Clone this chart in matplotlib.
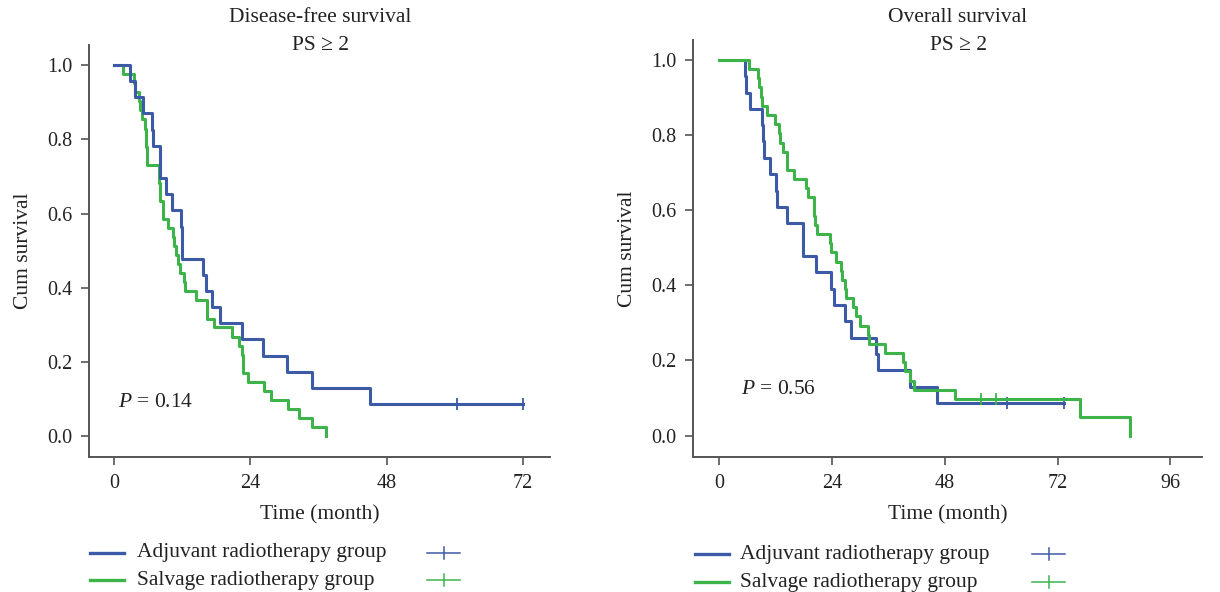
import matplotlib
matplotlib.use('Agg')
import matplotlib.pyplot as plt

plt.rcParams['font.family'] = ['Liberation Serif', 'DejaVu Serif']
plt.rcParams['mathtext.fontset'] = 'custom'
plt.rcParams['mathtext.it'] = 'Liberation Serif:italic'
plt.rcParams['mathtext.rm'] = 'Liberation Serif'

BLUE = '#3d5aa6'
GREEN = '#3cb44a'
SPINE = '#555555'

# Disease-free survival, adjuvant group (step times in months, survival after step)
dfs_adj_t = [0, 2.8, 3.65, 5.1, 6.6, 6.8, 8.1, 9.2, 10.1, 11.8, 11.9, 11.95,
             15.7, 16.2, 17.3, 18.6, 22.5, 26.2, 30.4, 34.8, 45.0, 72.0]
dfs_adj_s = [1.0, 0.957, 0.913, 0.870, 0.826, 0.783, 0.696, 0.652, 0.609, 0.565, 0.522, 0.478,
             0.435, 0.391, 0.348, 0.304, 0.261, 0.217, 0.174, 0.130, 0.087, 0.087]
dfs_adj_cens = [60.4, 72.0]

# Disease-free survival, salvage group
dfs_sal_t = [0, 1.6, 3.5, 3.7, 4.4, 4.6, 4.8, 5.4, 5.5, 5.6, 5.7, 5.8,
             7.8, 7.9, 8.0, 8.1, 8.5, 8.6, 9.4, 10.4, 10.6, 10.8, 11.2, 11.6,
             12.2, 12.4, 14.4, 16.3, 16.4, 17.6, 20.7, 21.9, 22.5, 22.6, 22.7,
             23.6, 26.3, 27.6, 30.7, 32.6, 34.8, 37.3]
dfs_sal_s = [1.0, 0.976, 0.951, 0.927, 0.902, 0.878, 0.854, 0.829, 0.805, 0.780, 0.756, 0.732,
             0.707, 0.683, 0.659, 0.634, 0.610, 0.585, 0.561, 0.537, 0.512, 0.488, 0.463, 0.439,
             0.415, 0.390, 0.366, 0.341, 0.317, 0.293, 0.268, 0.244, 0.219, 0.195, 0.171,
             0.146, 0.122, 0.098, 0.073, 0.049, 0.024, 0.0]

# Overall survival, adjuvant group
os_adj_t = [0, 5.5, 5.7, 6.7, 9.2, 9.4, 9.5, 10.8, 12.2, 12.35, 14.4, 17.8, 17.9,
            20.6, 23.9, 24.4, 26.8, 28.1, 33.5, 33.9, 40.6, 46.4, 73.3]
os_adj_s = [1.0, 0.957, 0.913, 0.870, 0.826, 0.783, 0.739, 0.696, 0.652, 0.609, 0.565, 0.522, 0.478,
            0.435, 0.391, 0.348, 0.304, 0.261, 0.217, 0.174, 0.130, 0.087, 0.087]
os_adj_cens = [61.3, 73.3]

# Overall survival, salvage group
os_sal_t = [0, 6.4, 8.3, 8.5, 9.0, 9.2, 10.2, 11.9, 12.8, 13.1, 13.6, 14.4, 14.5,
            15.9, 18.6, 19.0, 20.2, 20.3, 20.4, 20.9, 23.6, 23.9, 24.8, 25.9, 26.1,
            26.8, 27.0, 28.5, 29.1, 30.1, 31.6, 31.9, 35.3, 39.2, 39.6, 40.6, 41.5,
            50.2, 76.7, 87.5]
os_sal_s = [1.0, 0.976, 0.951, 0.927, 0.902, 0.878, 0.854, 0.829, 0.805, 0.780, 0.756, 0.732, 0.707,
            0.683, 0.659, 0.634, 0.610, 0.585, 0.561, 0.537, 0.512, 0.488, 0.463, 0.439, 0.415,
            0.390, 0.366, 0.341, 0.317, 0.293, 0.268, 0.244, 0.219, 0.195, 0.171, 0.146, 0.122,
            0.098, 0.049, 0.0]
os_sal_cens = [55.7, 58.9]

xticks_dfs = [0, 24, 48, 72]
xticks_os = [0, 24, 48, 72, 96]
yticks = [0.0, 0.2, 0.4, 0.6, 0.8, 1.0]

W, H = 1220, 592
fig = plt.figure(figsize=(W / 100, H / 100), dpi=100)


def px_axes(x0, y0, x1, y1):
    return fig.add_axes([x0 / W, 1 - y1 / H, (x1 - x0) / W, (y1 - y0) / H])


def surv_at(t, s, x):
    val = s[0]
    for ti, si in zip(t, s):
        if ti <= x:
            val = si
    return val


def style(ax, xticks, xlim, ylim):
    ax.set_xlim(*xlim)
    ax.set_ylim(*ylim)
    ax.set_xticks(xticks)
    ax.set_yticks(yticks)
    ax.set_yticklabels(['%.1f' % v for v in yticks])
    for side in ['top', 'right']:
        ax.spines[side].set_visible(False)
    for side in ['left', 'bottom']:
        ax.spines[side].set_color(SPINE)
        ax.spines[side].set_linewidth(1.4)
    ax.tick_params(direction='out', length=6, width=1.2, color=SPINE,
                   labelsize=14.5, labelcolor='#222222', pad=6)
    ax.set_xlabel('Time (month)', fontsize=15.5, color='#222222', labelpad=9)
    ax.set_ylabel('Cum survival', fontsize=15.5, color='#222222', labelpad=10)


def draw(ax, t, s, color, cens=None):
    ax.step(t, s, where='post', color=color, lw=2.2)
    if cens:
        ax.plot(cens, [surv_at(t, s, c) for c in cens], ls='none', marker='|',
                ms=8, mew=1.3, color=color)


ax1 = px_axes(89, 45, 550, 457)
draw(ax1, dfs_sal_t, dfs_sal_s, GREEN)
draw(ax1, dfs_adj_t, dfs_adj_s, BLUE, dfs_adj_cens)
style(ax1, xticks_dfs, (-4.46, 76.8), (-0.056, 1.054))
ax1.text(0.7, 0.09, r'$P$ = 0.14', fontsize=15.5, color='#222222', va='center')

ax2 = px_axes(693, 40, 1202, 457)
draw(ax2, os_adj_t, os_adj_s, BLUE, os_adj_cens)
draw(ax2, os_sal_t, os_sal_s, GREEN, os_sal_cens)
style(ax2, xticks_os, (-5.5, 102.7), (-0.057, 1.053))
ax2.text(4.8, 0.122, r'$P$ = 0.56', fontsize=15.5, color='#222222', va='center')

# titles
for cx, name in [(320, 'Disease-free survival'), (958, 'Overall survival')]:
    fig.text(cx / W, 1 - 17 / H, name, ha='center', va='center', fontsize=15.5, color='#222222')
    fig.text(cx / W, 1 - 45 / H, 'PS ≥ 2', ha='center', va='center', fontsize=15.5, color='#222222')

# legends drawn in figure pixel space
ov = fig.add_axes([0, 0, 1, 1])
ov.set_xlim(0, W)
ov.set_ylim(H, 0)
ov.axis('off')
for lx, tx, cx, rows in [(90, 137, 427, (553, 580)), (695, 740, 1032, (554, 582))]:
    for (yy, color, label) in [(rows[0], BLUE, 'Adjuvant radiotherapy group'),
                               (rows[1], GREEN, 'Salvage radiotherapy group')]:
        ov.plot([lx, lx + 34], [yy, yy], color=color, lw=2.4)
        ov.text(tx, yy, label, fontsize=15.5, color='#222222', va='center')
        ov.plot([cx, cx + 33], [yy, yy], color=color, lw=1.1)
        ov.plot([cx + 16.5, cx + 16.5], [yy - 6, yy + 6], color=color, lw=1.1)

fig.savefig('out.png', dpi=100)
